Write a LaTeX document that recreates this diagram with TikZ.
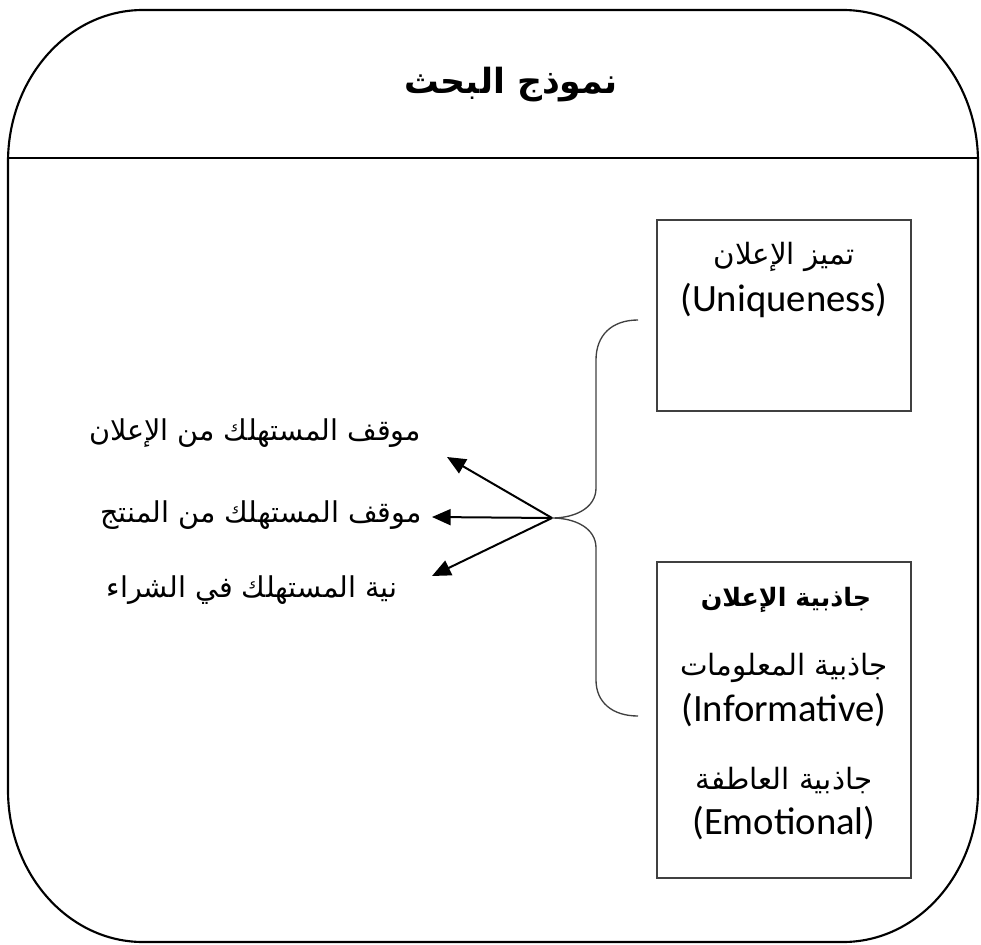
\documentclass[tikz,border=0pt]{standalone}
\usepackage{fontspec}
\setmainfont{Carlito}
\newfontfamily\arfont[Script=Arabic]{DejaVu Sans}
\TeXXeTstate=1
\usetikzlibrary{arrows.meta}
\newcommand{\artext}[1]{{\arfont\beginR #1\endR}}

\begin{document}
\begin{tikzpicture}[x=0.75pt,y=-0.75pt,
  frame/.style={line width=1.6pt, draw=black},
  boxline/.style={draw=black!75, line width=1.1pt, inner sep=0pt},
  bracepath/.style={draw=black!75, line width=1pt},
  link/.style={draw=black, line width=1.5pt, -{Triangle[length=14pt,width=12pt]}},
  artxt/.style={font={\arfont\fontsize{22}{26}\selectfont}, inner sep=0pt},
  outtxt/.style={font={\arfont\fontsize{21.5}{26}\selectfont}, inner sep=0pt},
  latxt/.style={font={\fontsize{29}{33}\selectfont}, inner sep=0pt},
]
\useasboundingbox (0,0) rectangle (981,945);

% outer rounded frame
\draw[frame] (8,162) -- (8,790)
  .. controls (8,874) and (68.4,942) .. (143,942) -- (843,942)
  .. controls (917.6,942) and (978,874) .. (978,790) -- (978,162)
  .. controls (978,78) and (917.6,10) .. (843,10) -- (143,10)
  .. controls (68.4,10) and (8,78) .. (8,162) -- cycle;
\coordinate (divL) at (8,158);
\coordinate (divR) at (978,158);
\draw[frame] (divL) -- (divR);

% heading
\node[font={\arfont\bfseries\fontsize{26}{30}\selectfont}, inner sep=0pt] (title) at (511,85) {\artext{نموذج البحث}};

% independent variables
\node[boxline, minimum width=190.5pt, minimum height=143.25pt] (uniq) at (784,315.5) {};
\node[artxt] (u1) at (784,257) {\artext{تميز الإعلان}};
\node[latxt] (u2) at (784,300) {(Uniqueness)};

\node[boxline, minimum width=190.5pt, minimum height=237pt] (appeal) at (784,720) {};
\node[artxt, font={\arfont\bfseries\fontsize{19}{23}\selectfont}] (a0) at (786,600) {\artext{جاذبية الإعلان}};
\node[artxt] (a1) at (784,668) {\artext{جاذبية المعلومات}};
\node[latxt] (a2) at (784,710) {(Informative)};
\node[artxt] (a3) at (784,780) {\artext{جاذبية العاطفة}};
\node[latxt] (a4) at (784,823) {(Emotional)};

% dependent variables
\node[outtxt] (o1) at (255,433) {\artext{موقف المستهلك من الإعلان}};
\node[outtxt] (o2) at (261,515) {\artext{موقف المستهلك من المنتج}};
\node[outtxt] (o3) at (252,590) {\artext{نية المستهلك في الشراء}};

% brace joining the two boxes
\coordinate (hub) at (552,518);
\coordinate (btop) at (638,320);
\coordinate (bbot) at (638,716);
\draw[bracepath] (btop) .. controls (612,320) and (596,335) .. (596,360) -- (596,488)
  .. controls (596,508) and (575,518) .. (hub)
  .. controls (575,518) and (596,528) .. (596,548) -- (596,680)
  .. controls (596,702) and (612,716) .. (bbot);

% arrows to the outcomes
\coordinate (p1) at (447,457);
\coordinate (p2) at (432,517);
\coordinate (p3) at (432,576);
\draw[link] (hub) -- (p1);
\draw[link] (hub) -- (p2);
\draw[link] (hub) -- (p3);
\end{tikzpicture}
\end{document}
